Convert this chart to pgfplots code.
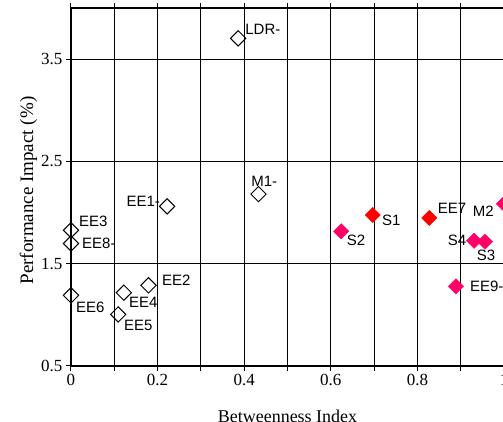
\documentclass[border=0pt]{standalone}
\usepackage{pgfplots}
\pgfplotsset{compat=1.18}
\usepackage{fontspec}
\setmainfont{Liberation Serif}
\newfontfamily\lblfont{Liberation Sans}
\definecolor{pinkred}{RGB}{255,0,102}
\definecolor{pure}{RGB}{255,0,0}
\begin{document}
\begin{tikzpicture}
\begin{axis}[
  name=ax,
  scale only axis,
  width=433pt, height=357.4pt,
  xmin=0, xmax=1, ymin=0.5, ymax=4.0,
  xtick={0,0.2,0.4,0.6,0.8,1},
  minor xtick={0.1,0.3,0.5,0.7,0.9},
  ytick={0.5,1.5,2.5,3.5},
  grid=both,
  major grid style={black, line width=1.1pt},
  minor grid style={black, line width=1.1pt},
  axis line style={black, line width=1.8pt},
  tick style={black, line width=1pt},
  tick align=outside,
  major tick length=5pt, minor tick length=5pt,
  /pgf/number format/assume math mode=true,
  tick label style={font=\fontsize{17}{19}\selectfont},
  xlabel={Betweenness Index},
  ylabel={Performance Impact (\%)},
  xlabel style={font=\fontsize{18}{20}\selectfont, at={(axis description cs:0.5,-0.143)}, anchor=center},
  ylabel style={font=\fontsize{19}{21}\selectfont, at={(axis description cs:-0.098,0.49)}, anchor=center},
  clip=false,
]
% hollow diamonds
\addplot[only marks, mark=square, mark size=5.4pt,
  mark options={rotate=45, fill=white, draw=black, line width=1pt}]
  coordinates {
  (0.386,3.706) (0.433,2.18) (0.222,2.06) (0.0,1.827) (0.0,1.696)
  (0.0,1.189) (0.122,1.215) (0.109,1.002) (0.179,1.287)
  };
% red filled
\addplot[only marks, mark=square*, mark size=5.4pt,
  mark options={rotate=45, fill=pure, draw=pure}]
  coordinates {(0.697,1.976) (0.8275,1.947)};
% pink filled
\addplot[only marks, mark=square*, mark size=5.4pt,
  mark options={rotate=45, fill=pinkred, draw=pinkred}]
  coordinates {(0.624,1.816) (1.0,2.085) (0.931,1.724) (0.956,1.715) (0.889,1.277)};
% labels
\begin{scope}[every node/.style={inner sep=0pt, font=\lblfont\fontsize{15}{17}\selectfont}]
\node[anchor=base west, xshift=7pt, yshift=4pt] at (axis cs:0.386,3.706) {LDR-};
\node[anchor=base, xshift=5.7pt, yshift=8pt] at (axis cs:0.433,2.18) {M1-};
\node[anchor=base east, xshift=-7pt, yshift=0pt] at (axis cs:0.222,2.06) {EE1-};
\node[anchor=base west, xshift=8pt, yshift=3.3pt] at (axis cs:0.0,1.827) {EE3};
\node[anchor=base west, xshift=11pt, yshift=-4.7pt] at (axis cs:0.0,1.696) {EE8-};
\node[anchor=base west, xshift=5pt, yshift=-17pt] at (axis cs:0.0,1.189) {EE6};
\node[anchor=base west, xshift=5pt, yshift=-14.7pt] at (axis cs:0.122,1.215) {EE4};
\node[anchor=base west, xshift=5.7pt, yshift=-16pt] at (axis cs:0.109,1.002) {EE5};
\node[anchor=base west, xshift=13.4pt, yshift=0pt] at (axis cs:0.179,1.287) {EE2};
\node[anchor=base west, xshift=9pt, yshift=-10.7pt] at (axis cs:0.697,1.976) {S1};
\node[anchor=base west, xshift=8.4pt, yshift=4pt] at (axis cs:0.8275,1.947) {EE7};
\node[anchor=base west, xshift=5.4pt, yshift=-13.7pt] at (axis cs:0.624,1.816) {S2};
\node[anchor=base east, xshift=-10pt, yshift=-12.3pt] at (axis cs:1.0,2.085) {M2};
\node[anchor=base east, xshift=-7.6pt, yshift=-5pt] at (axis cs:0.931,1.724) {S4};
\node[anchor=base west, xshift=-8.3pt, yshift=-19pt] at (axis cs:0.956,1.715) {S3};
\node[anchor=base west, xshift=14pt, yshift=-4.7pt] at (axis cs:0.889,1.277) {EE9-};
\end{scope}
\end{axis}
\pgfresetboundingbox
\path[use as bounding box] ([xshift=-71pt,yshift=-56.3pt]ax.south west) rectangle ([xshift=-1pt,yshift=8.3pt]ax.north east);
\end{tikzpicture}
\end{document}
